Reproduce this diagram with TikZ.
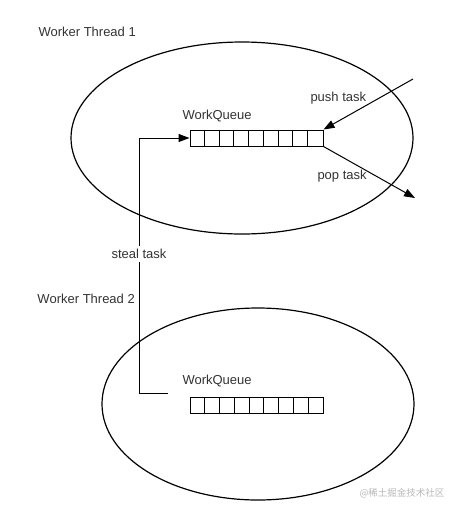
\documentclass[tikz,border=0pt]{standalone}
\usepackage{fontspec}
\setmainfont{Liberation Sans}
\newfontfamily\cjk{Noto Sans CJK SC}
\usetikzlibrary{arrows.meta}
\begin{document}
\begin{tikzpicture}[x=1pt,y=-1pt,line width=1pt,
  lbl/.style={font=\fontsize{13}{15}\selectfont,text=black!80,inner sep=0pt},
  queue/.style={draw,minimum width=133pt,minimum height=16pt,inner sep=0pt},
  >={Triangle[length=11pt,width=8pt]}]
\useasboundingbox (0,0) rectangle (458,512);
% threads
\draw[line width=1.2pt] (242,138) ellipse [x radius=171, y radius=96];
\draw[line width=1.2pt] (258,404) ellipse [x radius=156, y radius=96];
\node[lbl,anchor=west] (t1) at (38,32) {Worker Thread 1};
\node[lbl,anchor=west] (t2) at (37,299) {Worker Thread 2};
% queues
\node[queue] (q1) at (256.5,138) {};
\node[queue] (q2) at (257,405.5) {};
\foreach \q in {q1,q2}{
  \foreach \i in {1,...,8}{
    \draw ([xshift=\i*14.78pt]\q.south west) -- ([xshift=\i*14.78pt]\q.north west);
  }
}
\node[lbl,anchor=west] (w1) at (182,116) {WorkQueue};
\node[lbl,anchor=west] (w2) at (182,381) {WorkQueue};
% push / pop
\coordinate (pushin) at (413,79);
\coordinate (popout) at (415,198);
\draw[->] (pushin) -- (q1.north east);
\draw[->] (q1.south east) -- (popout);
\node[lbl,anchor=west] (push) at (310,98) {push task};
\node[lbl,anchor=west] (pop) at (317,176) {pop task};
% steal
\coordinate (s2) at (168,393);
\coordinate (sx) at (139,393);
\draw[->] (s2) -- (sx) -- node[lbl,fill=white,inner ysep=3pt,inner xsep=1pt,pos=0.545] (steal) {steal task} (sx |- q1.west) -- (q1.west);
% watermark
\node[anchor=west,inner sep=0pt,text=black!28,font=\cjk\fontsize{9.5}{11}\selectfont] (wm) at (359,493) {@稀土掘金技术社区};
\end{tikzpicture}
\end{document}
